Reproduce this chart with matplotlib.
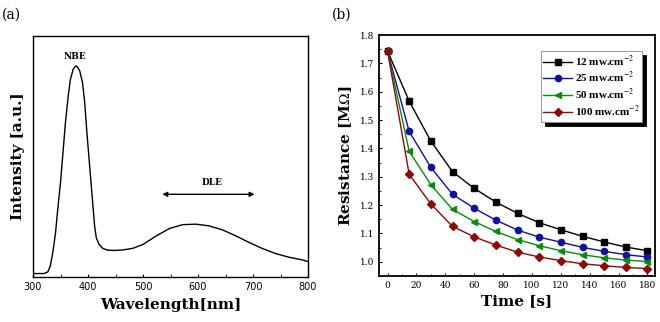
import matplotlib
matplotlib.use("Agg")
import matplotlib.pyplot as plt
from matplotlib.ticker import MultipleLocator

plt.rcParams['mathtext.fontset'] = 'stix'

# === Panel (a): PL spectrum ===
wavelength = [300, 320, 327, 331.5, 336, 341, 345, 350, 354.5, 359, 364, 368, 373,
              377.6, 380.6, 385, 390, 394, 398, 403, 408, 412, 415, 420, 427, 436,
              448.5, 463.6, 482, 500, 524, 548, 572, 596, 620, 645, 669, 693, 717,
              741, 765, 789, 800]
intensity = [0.014, 0.014, 0.021, 0.046, 0.101, 0.184, 0.281, 0.392, 0.516, 0.641,
             0.751, 0.820, 0.862, 0.876, 0.873, 0.855, 0.807, 0.724, 0.599, 0.461,
             0.322, 0.212, 0.163, 0.136, 0.118, 0.111, 0.110, 0.112, 0.119, 0.135,
             0.170, 0.201, 0.217, 0.219, 0.212, 0.195, 0.170, 0.143, 0.118, 0.097,
             0.082, 0.071, 0.064]

# === Panel (b): resistance vs time ===
time_s = [0, 15, 30, 45, 60, 75, 90, 105, 120, 135, 150, 165, 180]
res_12 = [1.744, 1.567, 1.426, 1.318, 1.259, 1.211, 1.171, 1.138, 1.113, 1.090, 1.070, 1.052, 1.039]
res_25 = [1.744, 1.460, 1.333, 1.238, 1.189, 1.147, 1.112, 1.087, 1.069, 1.051, 1.037, 1.025, 1.017]
res_50 = [1.744, 1.390, 1.272, 1.185, 1.142, 1.107, 1.078, 1.057, 1.039, 1.025, 1.014, 1.006, 1.001]
res_100 = [1.744, 1.309, 1.204, 1.125, 1.088, 1.059, 1.034, 1.017, 1.004, 0.993, 0.986, 0.980, 0.976]
labels = ['12 mw.cm$^{-2}$', '25 mw.cm$^{-2}$', '50 mw.cm$^{-2}$', '100 mw.cm$^{-2}$']

fig = plt.figure(figsize=(6.6, 3.22), dpi=100)

# --- (a) ---
ax1 = fig.add_axes([0.05, 0.14, 0.4167, 0.748])
ax1.plot(wavelength, intensity, color='black', lw=1.0)
ax1.set_xlim(300, 800)
ax1.set_ylim(0, 1)
ax1.set_yticks([])
ax1.xaxis.set_major_locator(MultipleLocator(100))
ax1.xaxis.set_minor_locator(MultipleLocator(50))
ax1.tick_params(axis='x', which='both', direction='in', length=2.5, labelsize=7, pad=4)
for lab in ax1.get_xticklabels():
    lab.set_family('DejaVu Sans')
for sp in ax1.spines.values():
    sp.set_linewidth(1.0)
ax1.set_xlabel('Wavelength[nm]', family='DejaVu Serif', weight='bold', fontsize=11, labelpad=4)
ax1.set_ylabel('Intensity [a.u.]', family='DejaVu Serif', weight='bold', fontsize=11, labelpad=6)
ax1.text(377, 0.915, 'NBE', family='DejaVu Serif', weight='bold', fontsize=6.5, ha='center', va='center')
ax1.text(625, 0.39, 'DLE', family='DejaVu Serif', weight='bold', fontsize=6.5, ha='center', va='center')
ax1.annotate('', xy=(530, 0.343), xytext=(708, 0.343),
             arrowprops=dict(arrowstyle='<|-|>', color='black', lw=1.0, mutation_scale=7))
fig.text(0.003, 0.955, '(a)', family='DejaVu Serif', fontsize=10, va='center')

# --- (b) ---
ax2 = fig.add_axes([0.574, 0.143, 0.418, 0.748])
ax2.plot(time_s, res_12, color='black', marker='s', ms=4, lw=1.0, label=labels[0])
ax2.plot(time_s, res_25, color='#10109a', marker='o', ms=4.5, lw=1.0, label=labels[1])
ax2.plot(time_s, res_50, color='#0a8a0a', marker='<', ms=4.5, lw=1.0, label=labels[2])
ax2.plot(time_s, res_100, color='#8b0a0a', marker='D', ms=3.8, lw=1.0, label=labels[3])
ax2.set_xlim(-6, 185)
ax2.set_ylim(0.95, 1.8)
ax2.xaxis.set_major_locator(MultipleLocator(20))
ax2.xaxis.set_minor_locator(MultipleLocator(10))
ax2.yaxis.set_major_locator(MultipleLocator(0.1))
ax2.yaxis.set_minor_locator(MultipleLocator(0.05))
ax2.tick_params(which='both', direction='in', length=2.5, labelsize=6.5)
ax2.tick_params(which='minor', length=1.5)
for lab in ax2.get_xticklabels() + ax2.get_yticklabels():
    lab.set_family('DejaVu Serif')
for sp in ax2.spines.values():
    sp.set_linewidth(1.3)
ax2.set_xlabel('Time [s]', family='DejaVu Serif', weight='bold', fontsize=11, labelpad=3)
ax2.set_ylabel('Resistance [M$\\Omega$]', family='DejaVu Serif', weight='bold', fontsize=11, labelpad=4)
leg = ax2.legend(loc='upper right', bbox_to_anchor=(0.955, 0.935), fancybox=False,
                 edgecolor='#888888', shadow={'color': 'black', 'alpha': 1.0, 'ox': 3, 'oy': -3},
                 prop={'family': 'Liberation Serif', 'weight': 'bold', 'size': 8},
                 handlelength=2.6, handletextpad=0.2, labelspacing=0.15, borderpad=0.25,
                 borderaxespad=0)
leg.get_frame().set_linewidth(0.6)
fig.text(0.503, 0.955, '(b)', family='DejaVu Serif', fontsize=10, va='center')

fig.savefig('out.png', dpi=100)
